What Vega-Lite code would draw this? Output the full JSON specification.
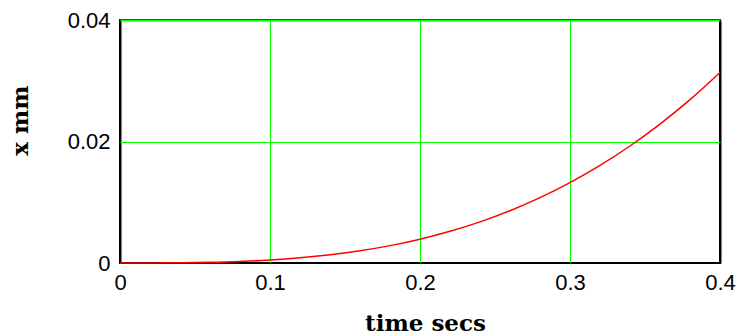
{
  "$schema": "https://vega.github.io/schema/vega-lite/v6.json",
  "width": 600,
  "height": 243,
  "autosize": {"type": "none"},
  "padding": {"left": 120, "top": 20, "right": 20, "bottom": 71},
  "background": "white",
  "config": {
    "view": {"stroke": "black", "strokeWidth": 2},
    "axis": {
      "grid": true,
      "gridOpacity": 1,
      "domain": false,
      "ticks": false,
      "labelFont": "Liberation Sans",
      "labelFontSize": 22,
      "labelColor": "black",
      "titleFont": "DejaVu Serif",
      "titleFontWeight": "bold",
      "titleFontSize": 23,
      "titleColor": "black"
    }
  },
  "data": {
    "values": [
      {"t": 0.0, "x": 0.0},
      {"t": 0.02, "x": 0.0000039},
      {"t": 0.04, "x": 0.0000314},
      {"t": 0.06, "x": 0.000106},
      {"t": 0.08, "x": 0.000251},
      {"t": 0.1, "x": 0.00049},
      {"t": 0.12, "x": 0.000847},
      {"t": 0.14, "x": 0.001345},
      {"t": 0.16, "x": 0.002007},
      {"t": 0.18, "x": 0.002858},
      {"t": 0.2, "x": 0.00392},
      {"t": 0.22, "x": 0.005218},
      {"t": 0.24, "x": 0.006774},
      {"t": 0.26, "x": 0.008612},
      {"t": 0.28, "x": 0.010756},
      {"t": 0.3, "x": 0.01323},
      {"t": 0.32, "x": 0.016056},
      {"t": 0.34, "x": 0.019259},
      {"t": 0.36, "x": 0.022861},
      {"t": 0.38, "x": 0.026887},
      {"t": 0.4, "x": 0.03136}
    ]
  },
  "mark": {"type": "line", "color": "#ff0000", "strokeWidth": 1.5, "interpolate": "monotone"},
  "encoding": {
    "x": {
      "field": "t",
      "type": "quantitative",
      "scale": {"domain": [0, 0.4], "nice": false, "zero": false},
      "axis": {
        "title": "time secs",
        "values": [0, 0.1, 0.2, 0.3, 0.4],
        "format": "~g",
        "labelFlush": false,
        "labelPadding": 9,
        "gridColor": {"condition": {"test": "datum.value < 0.05 || datum.value > 0.35", "value": "black"}, "value": "#00ff00"},
        "gridWidth": {"condition": {"test": "datum.value < 0.05 || datum.value > 0.35", "value": 2}, "value": 1},
        "titleX": 305,
        "titleY": 67,
        "titleBaseline": "alphabetic",
        "titleAlign": "center"
      }
    },
    "y": {
      "field": "x",
      "type": "quantitative",
      "scale": {"domain": [0, 0.04], "nice": false},
      "axis": {
        "title": "x mm",
        "values": [0, 0.02, 0.04],
        "format": "~g",
        "labelPadding": 10,
        "gridColor": {"condition": {"test": "datum.value < 0.01", "value": "black"}, "value": "#00ff00"},
        "gridWidth": {"condition": {"test": "datum.value > 0.03", "value": 2}, "value": 1},
        "titleX": -93,
        "titleY": 100,
        "titleBaseline": "alphabetic",
        "titleAlign": "center",
        "titleAngle": -90
      }
    }
  }
}
